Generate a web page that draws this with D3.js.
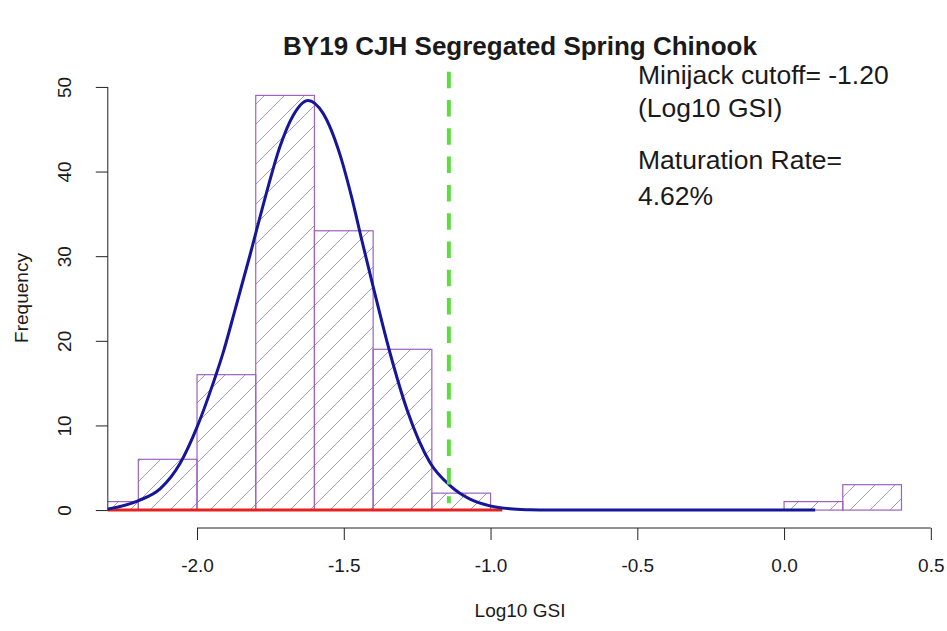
<!DOCTYPE html>
<html>
<head>
<meta charset="utf-8">
<script src="https://cdn.jsdelivr.net/npm/d3@7"></script>
<style>
  body { margin: 0; background: #fff; }
  text { font-family: "Liberation Sans", Arial, sans-serif; fill: #1a1a1a; }
</style>
</head>
<body>
<div id="chart"></div>
<script>
(() => {
    // histogram breaks and counts
    const breaks = [-2.4, -2.2, -2.0, -1.8, -1.6, -1.4, -1.2, -1.0, -0.8, -0.6, -0.4, -0.2, 0.0, 0.2, 0.4];
    const counts = [1, 6, 16, 49, 33, 19, 2, 0, 0, 0, 0, 0, 1, 3];

    // fitted curve
    const curveX = [-2.307, -2.201, -2.126, -2.058, -2.0, -1.945, -1.911, -1.871, -1.819, -1.775, -1.717, -1.673, -1.622, -1.571, -1.513, -1.472, -1.438, -1.400, -1.342, -1.284, -1.206, -1.138, -1.070, -1.002, -0.934, -0.866, -0.80, 0.106];
    const curveY = [0.1, 1.1, 2.5, 5.5, 9.8, 15.0, 18.6, 23.6, 30.2, 36.0, 43.0, 46.6, 48.4, 46.9, 42.0, 36.8, 31.8, 26.4, 18.5, 11.8, 5.6, 2.9, 1.3, 0.5, 0.15, 0.04, 0, 0];

    // red line near zero
    const redX = [-2.31, -0.96];
    const redY = [0, 0];

    const cutoffX = -1.142;
    const cutoffY = [52, 0.8];

    const xTicks = [-2.0, -1.5, -1.0, -0.5, 0.0, 0.5];
    const yTicks = [0, 10, 20, 30, 40, 50];

    const title = "BY19 CJH Segregated Spring Chinook";
    const xLabel = "Log10 GSI";
    const yLabel = "Frequency";
    const notes = ["Minijack cutoff= -1.20", "(Log10 GSI)", "Maturation Rate=", "4.62%"];

    /*************************************************************************/
    const width = 947;
    const height = 631;

    const svg = d3.select("#chart").append("svg")
        .attr("width", width)
        .attr("height", height);

    svg.append("rect").attr("width", width).attr("height", height).attr("fill", "#fff");

    const x = d3.scaleLinear().domain([-2.304, 0.504]).range([107.8, 932]);
    const y = d3.scaleLinear().domain([-2, 52]).range([527, 70]);

    const defs = svg.append("defs");
    defs.append("clipPath").attr("id", "plotclip")
        .append("rect")
        .attr("x", x.range()[0]).attr("y", y.range()[1])
        .attr("width", x.range()[1] - x.range()[0])
        .attr("height", y.range()[0] - y.range()[1]);

    const hatch = defs.append("pattern")
        .attr("id", "hatch")
        .attr("patternUnits", "userSpaceOnUse")
        .attr("width", 20).attr("height", 20);
    hatch.append("path")
        .attr("d", "M-5,5 L5,-5 M0,20 L20,0 M15,25 L25,15")
        .attr("stroke", "#9788ad")
        .attr("stroke-width", 0.85);

    const plot = svg.append("g").attr("clip-path", "url(#plotclip)");

    /********************** bars ****************************/
    const bins = counts.map((c, i) => ({ x0: breaks[i], x1: breaks[i + 1], n: c }));

    plot.selectAll(".bar")
        .data(bins)
        .join("rect")
        .attr("class", "bar")
        .attr("x", d => x(d.x0))
        .attr("y", d => y(d.n))
        .attr("width", d => x(d.x1) - x(d.x0))
        .attr("height", d => y(0) - y(d.n))
        .attr("fill", "url(#hatch)")
        .attr("stroke", "#9d62bd")
        .attr("stroke-width", 1.2);

    /********************** lines ****************************/
    const line = d3.line()
        .x(d => x(d[0]))
        .y(d => y(d[1]));

    plot.append("path")
        .datum(redX.map((v, i) => [v, redY[i]]))
        .attr("d", line)
        .attr("fill", "none")
        .attr("stroke", "#e3231f")
        .attr("stroke-width", 3);

    plot.append("path")
        .datum(curveX.map((v, i) => [v, curveY[i]]))
        .attr("d", line.curve(d3.curveMonotoneX))
        .attr("fill", "none")
        .attr("stroke", "#16169a")
        .attr("stroke-width", 3);

    plot.append("line")
        .attr("x1", x(cutoffX)).attr("x2", x(cutoffX))
        .attr("y1", y(cutoffY[0]) + 1.7).attr("y2", y(cutoffY[1]))
        .attr("stroke", "#5fdc42")
        .attr("stroke-width", 4)
        .attr("stroke-dasharray", "16.5,11.8");

    /********************** axes ****************************/
    const xAxis = svg.append("g")
        .attr("transform", `translate(0,528)`)
        .call(d3.axisBottom(x).tickValues(xTicks).tickSize(12).tickSizeOuter(0));
    xAxis.select(".domain").remove();
    xAxis.append("line")
        .attr("x1", x(xTicks[0])).attr("x2", x(xTicks[xTicks.length - 1]))
        .attr("stroke", "#222");
    xAxis.selectAll(".tick line").attr("stroke", "#222");
    xAxis.selectAll(".tick text")
        .attr("y", 44).attr("dy", null)
        .style("font-size", "19px")
        .style("font-family", "Liberation Sans, Arial, sans-serif")
        .attr("fill", "#1a1a1a")
        .text(d => d3.format(".1f")(d).replace("−", "-"));

    const yAxis = svg.append("g")
        .attr("transform", `translate(${x.range()[0]},0)`)
        .call(d3.axisLeft(y).tickValues(yTicks).tickSize(12).tickSizeOuter(0));
    yAxis.select(".domain").remove();
    yAxis.append("line")
        .attr("y1", y(yTicks[0])).attr("y2", y(yTicks[yTicks.length - 1]))
        .attr("stroke", "#222");
    yAxis.selectAll(".tick line").attr("stroke", "#222");
    yAxis.selectAll(".tick text")
        .attr("x", null).attr("dy", null)
        .attr("transform", "translate(-37,0) rotate(-90)")
        .attr("text-anchor", "middle")
        .style("font-size", "19px")
        .style("font-family", "Liberation Sans, Arial, sans-serif")
        .attr("fill", "#1a1a1a");

    /********************** texts ****************************/
    svg.append("text")
        .attr("x", 520).attr("y", 55)
        .attr("text-anchor", "middle")
        .style("font-size", "26px")
        .style("font-weight", "bold")
        .text(title);

    svg.append("text")
        .attr("x", 520).attr("y", 617)
        .attr("text-anchor", "middle")
        .style("font-size", "19px")
        .text(xLabel);

    svg.append("text")
        .attr("transform", "translate(28,298) rotate(-90)")
        .attr("text-anchor", "middle")
        .style("font-size", "19px")
        .text(yLabel);

    const noteY = [84, 117, 169, 205];
    svg.selectAll(".note")
        .data(notes)
        .join("text")
        .attr("class", "note")
        .attr("x", 638)
        .attr("y", (d, i) => noteY[i])
        .style("font-size", "26.5px")
        .text(d => d);
})()
</script>
</body>
</html>
